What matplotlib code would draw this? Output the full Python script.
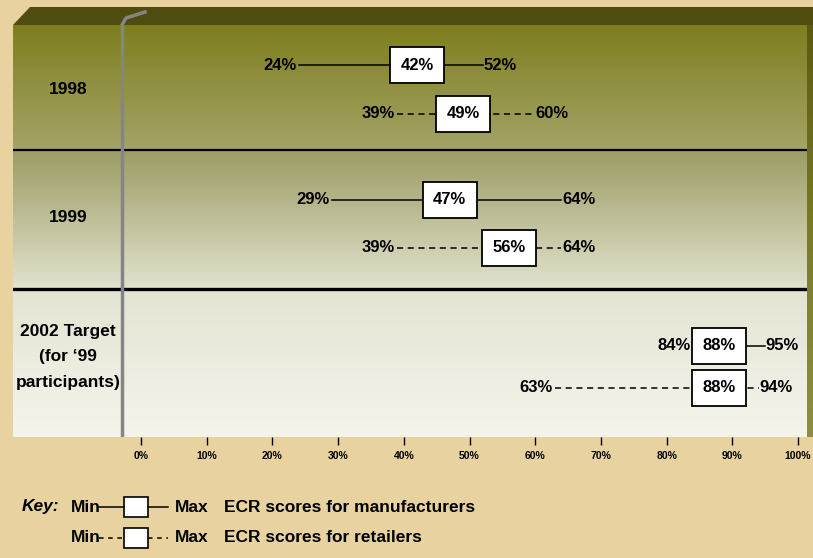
import matplotlib
matplotlib.use("Agg")
import matplotlib.pyplot as plt
import numpy as np
from matplotlib.patches import Rectangle, Polygon
from matplotlib.colors import LinearSegmentedColormap

# ---- data ----
periods = ["1998", "1999", "2002 Target\n(for \u201899\nparticipants)"]
manuf_min = [24, 29, 84]
manuf_avg = [42, 47, 88]
manuf_max = [52, 64, 95]
retail_min = [39, 39, 63]
retail_avg = [49, 56, 88]
retail_max = [60, 64, 94]
tick_values = [0, 10, 20, 30, 40, 50, 60, 70, 80, 90, 100]
tick_labels = ["0%", "10%", "20%", "30%", "40%", "50%", "60%", "70%", "80%", "90%", "100%"]

FONT = ["Liberation Sans", "DejaVu Sans"]
plt.rcParams["font.family"] = FONT

W, H = 813, 558
fig = plt.figure(figsize=(W / 100, H / 100), dpi=100)
fig.patch.set_facecolor("#E8D3A0")

# background decoration axes in pixel coords
bg = fig.add_axes([0, 0, 1, 1])
bg.set_xlim(0, W)
bg.set_ylim(H, 0)
bg.axis("off")
bg.patch.set_alpha(0)
# top face of the 3D box
bg.add_patch(Polygon([(13, 25), (30, 7), (813, 7), (813, 25), (808, 25)],
                     closed=True, facecolor="#4E4C0F", edgecolor="none"))
# right side face
side = np.linspace(0, 1, 100).reshape(-1, 1)
side_cmap = LinearSegmentedColormap.from_list("side", ["#5C5A12", "#7A7A28", "#8E8E40"])
bg.imshow(side, extent=(807, 813, 437, 25), aspect="auto", cmap=side_cmap, zorder=1)

# main axes: x = percent, y = pixel rows
px0, pxs = 141.0, 6.57
left_px, right_px, top_px, bot_px = 13, 807, 25, 437
ax = fig.add_axes([left_px / W, (H - bot_px) / H, (right_px - left_px) / W, (bot_px - top_px) / H])
ax.set_xlim((left_px - px0) / pxs, (right_px - px0) / pxs)
ax.set_ylim(bot_px, top_px)
ax.patch.set_alpha(0)
for s in ax.spines.values():
    s.set_visible(False)
x0, x1 = ax.get_xlim()

bands = [(25, 150, "#7E7E1E", "#A4A468"),
         (150, 289, "#9C9C64", "#E2E2CE"),
         (289, 437, "#E4E4D3", "#F4F4EB")]
for ytop, ybot, ctop, cbot in bands:
    cm = LinearSegmentedColormap.from_list("b", [ctop, cbot])
    ax.imshow(np.linspace(0, 1, 200).reshape(-1, 1), extent=(x0, x1, ybot, ytop),
              aspect="auto", cmap=cm, zorder=0)
ax.set_xlim(x0, x1)
ax.set_ylim(bot_px, top_px)

# separators
ax.axhline(150, color="black", lw=1.6, zorder=2)
ax.axhline(289.5, color="black", lw=2.4, zorder=2)

# grey vertical axis line with slanted top
vx = (122 - px0) / pxs
ax.plot([vx, vx], [437, 25], color="#858585", lw=2.5, zorder=3, solid_capstyle="butt")
bg.plot([122, 126, 145], [25, 18, 12], color="#858585", lw=2.5, zorder=3)

# row labels
label_y = [90, 218, 357]
for lab, yy in zip(periods, label_y):
    ax.text((68 - px0) / pxs, yy, lab, ha="center", va="center", fontsize=12.5,
            fontweight="bold", linespacing=1.85, zorder=5)

manuf_y = [65, 200, 346]
retail_y = [114, 248, 388]
box_w = 8.3
box_h = 36
fs = 12

def draw(mins, avgs, maxs, ys, ls):
    for mn, av, mx, yy in zip(mins, avgs, maxs, ys):
        ax.plot([mn, mx], [yy, yy], color="black", lw=1.1, ls=ls, zorder=4,
                dashes=(4, 3) if ls == "--" else (None, None))
        ax.add_patch(Rectangle((av - box_w / 2, yy - box_h / 2), box_w, box_h,
                               facecolor="white", edgecolor="black", lw=1.3, zorder=5))
        ax.text(av, yy, f"{av}%", ha="center", va="center", fontsize=fs,
                fontweight="bold", zorder=6)
        ax.text(mn - 0.3, yy, f"{mn}%", ha="right", va="center", fontsize=fs,
                fontweight="bold", zorder=6)
        ax.text(mx + 0.1, yy, f"{mx}%", ha="left", va="center", fontsize=fs,
                fontweight="bold", zorder=6)

draw(manuf_min, manuf_avg, manuf_max, manuf_y, "-")
draw(retail_min, retail_avg, retail_max, retail_y, "--")

ax.set_yticks([])
ax.set_xticks(tick_values)
ax.set_xticklabels(tick_labels, fontsize=7.5, fontweight="bold")
ax.tick_params(axis="x", direction="out", length=6, width=1, color="black", pad=4)

# key
ky1, ky2 = 507, 538
kfs = 12.5
bg.text(22, ky1, "Key:", ha="left", va="center", fontsize=kfs, fontweight="bold", style="italic")
for ky, ls, txt in [(ky1, "-", "ECR scores for manufacturers"), (ky2, "--", "ECR scores for retailers")]:
    bg.text(71, ky, "Min", ha="left", va="center", fontsize=kfs, fontweight="bold")
    if ls == "-":
        bg.plot([99, 124], [ky, ky], color="black", lw=1.1)
        bg.plot([148, 168], [ky, ky], color="black", lw=1.1)
    else:
        bg.plot([99, 124], [ky, ky], color="black", lw=1.1, dashes=(3, 3))
        bg.plot([148, 168], [ky, ky], color="black", lw=1.1, dashes=(3, 3))
    bg.add_patch(Rectangle((124, ky - 10), 24, 20, facecolor="white", edgecolor="black", lw=1.2))
    bg.text(175, ky, "Max", ha="left", va="center", fontsize=kfs, fontweight="bold")
    bg.text(224, ky, txt, ha="left", va="center", fontsize=kfs, fontweight="bold")

fig.savefig("out.png", dpi=100, facecolor=fig.get_facecolor())
